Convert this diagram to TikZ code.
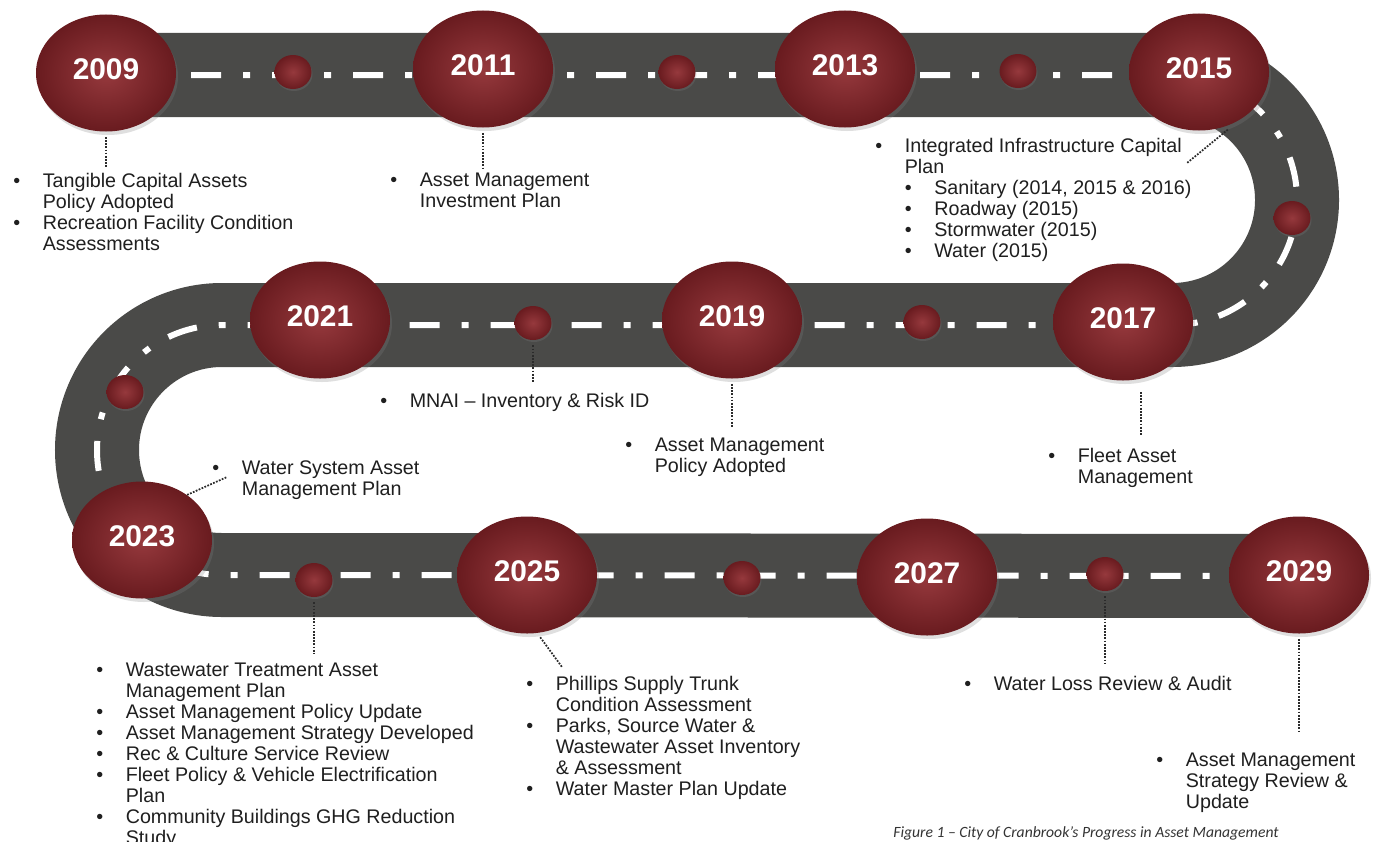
\documentclass[tikz,border=0pt]{standalone}
\usepackage{fontspec}
\setmainfont{Liberation Sans}
\newfontfamily\capfont{Carlito}
\usepackage{tikz}
\usetikzlibrary{shapes}
\usetikzlibrary{shadows}

\definecolor{road}{HTML}{4A4A48}
\definecolor{ballin}{HTML}{96393D}
\definecolor{ballout}{HTML}{691B1F}
\definecolor{leadgray}{HTML}{2B2B2B}

\newcommand{\bl}{\makebox[5.9mm][l]{\textbullet}}
\newcommand{\ind}{\hspace*{5.9mm}}

\tikzset{
  yearball/.style={ellipse, minimum width=28mm, minimum height=23.4mm, inner sep=0pt,
    inner color=ballin, outer color=ballout, text=white, text depth=1.6mm,
    font=\fontsize{17}{17}\selectfont\bfseries,
    drop shadow={opacity=0.25, shadow xshift=0.4mm, shadow yshift=-0.7mm}},
  milestone/.style={ellipse, minimum width=7.4mm, minimum height=6.8mm, inner sep=0pt,
    inner color=ballin, outer color=ballout,
    drop shadow={opacity=0.25, shadow xshift=0.2mm, shadow yshift=-0.4mm}},
  notes/.style={anchor=north west, align=left, inner sep=0pt, text=black!88,
    font=\fontsize{11.2}{11.9}\selectfont},
  leader/.style={draw=leadgray, line width=1pt, dash pattern=on 1pt off 0.8pt,
    shorten <=1mm, shorten >=2mm},
}

\begin{document}
\begin{tikzpicture}[x=0.2mm, y=-0.2mm]
    \useasboundingbox [fill=white] (0,0) rectangle (1376,841);

    % the road and its centre line
    \draw [road, line width=16.8mm,
      postaction={draw=white, line width=1.2mm, dash pattern=on 6mm off 4.4mm on 1.4mm off 4.4mm}]
      (110,75) -- (1172,75) arc [start angle=90, end angle=-90, radius=25mm]
      -- (222,325) arc [start angle=90, end angle=270, radius=25mm] -- (1300,576);

    % notes
    \node [notes] (n2009) at (13,173) {\bl Tangible Capital Assets\\\ind Policy Adopted\\\bl Recreation Facility Condition\\\ind Assessments};
    \node [notes] (n2011) at (390,173) {\bl Asset Management\\\ind Investment Plan};
    \node [notes] (n2015) at (875,138) {\bl Integrated Infrastructure Capital\\\ind Plan\\
      \ind\bl Sanitary (2014, 2015 \& 2016)\\\ind\bl Roadway (2015)\\\ind\bl Stormwater (2015)\\\ind\bl Water (2015)};
    \node [notes] (n2017) at (1048,448) {\bl Fleet Asset\\\ind Management};
    \node [notes] (n2019) at (625,438) {\bl Asset Management\\\ind Policy Adopted};
    \node [notes] (n2020) at (380,393) {\bl MNAI -- Inventory \& Risk ID};
    \node [notes] (n2023) at (212,460) {\bl Water System Asset\\\ind Management Plan};
    \node [notes] (n2024) at (96,663) {\bl Wastewater Treatment Asset\\\ind Management Plan\\\bl Asset Management Policy Update\\
      \bl Asset Management Strategy Developed\\\bl Rec \& Culture Service Review\\\bl Fleet Policy \& Vehicle Electrification\\
      \ind Plan\\\bl Community Buildings GHG Reduction\\\ind Study};
    \node [notes] (n2025) at (526,676) {\bl Phillips Supply Trunk\\\ind Condition Assessment\\\bl Parks, Source Water \&\\
      \ind Wastewater Asset Inventory\\\ind \& Assessment\\\bl Water Master Plan Update};
    \node [notes] (n2028) at (964,676) {\bl Water Loss Review \& Audit};
    \node [notes] (n2029) at (1156,753) {\bl Asset Management\\\ind Strategy Review \&\\\ind Update};
    \node [text=black!80, font=\capfont\itshape\fontsize{8.9}{9}\selectfont] (caption) at (1086,833)
      {Figure 1 – City of Cranbrook’s Progress in Asset Management};

    % year balls
    \node [yearball] (y2009) at (106,73) {2009};
    \node [yearball] (y2011) at (483,69) {2011};
    \node [yearball] (y2013) at (845,69) {2013};
    \node [yearball] (y2015) at (1199,72) {2015};
    \node [yearball] (y2017) at (1123,322) {2017};
    \node [yearball] (y2019) at (732,320) {2019};
    \node [yearball] (y2021) at (320,320) {2021};
    \node [yearball] (y2023) at (142,540) {2023};
    \node [yearball] (y2025) at (527,575) {2025};
    \node [yearball] (y2027) at (927,577) {2027};
    \node [yearball] (y2029) at (1299,575) {2029};

    % milestones in between
    \node [milestone] (m2010) at (293,72) {};
    \node [milestone] (m2012) at (677,72) {};
    \node [milestone] (m2014) at (1018,71) {};
    \node [milestone] (m2016) at (1292,218) {};
    \node [milestone] (m2018) at (922,322) {};
    \node [milestone] (m2020) at (533,323) {};
    \node [milestone] (m2022) at (125,392) {};
    \node [milestone] (m2024) at (314,580) {};
    \node [milestone] (m2026) at (742,578) {};
    \node [milestone] (m2028) at (1105,574) {};

    % leaders
    \coordinate (k2015) at (1187,163);
    \coordinate (k2017) at (1141,392);
    \coordinate (k2023) at (227,477);
    \coordinate (k2025) at (562,667);
    \draw [leader, shorten >=1.2mm] (y2009.south) -- (y2009.south |- n2009.north);
    \draw [leader, shorten >=1mm] (y2011.south) -- (y2011.south |- n2011.north);
    \draw [leader, shorten <=3mm, shorten >=0mm] (y2015.-50) -- (k2015);
    \draw [leader, shorten <=0mm, shorten >=2.6mm] (k2017) -- (k2017 |- n2017.north);
    \draw [leader] (y2019.south) -- (y2019.south |- n2019.north);
    \draw [leader] (m2020.south) -- (m2020.south |- n2020.north);
    \draw [leader, shorten <=0mm, shorten >=0mm] (y2023.45) -- (k2023);
    \draw [leader] (m2024.south) -- (m2024.south |- n2024.north);
    \draw [leader, shorten >=0mm] (y2025.-80) -- (k2025);
    \draw [leader, shorten >=2.4mm] (m2028.south) -- (m2028.south |- n2028.north);
    \draw [leader, shorten >=4mm] (y2029.south) -- (y2029.south |- n2029.north);

\end{tikzpicture}
\end{document}
